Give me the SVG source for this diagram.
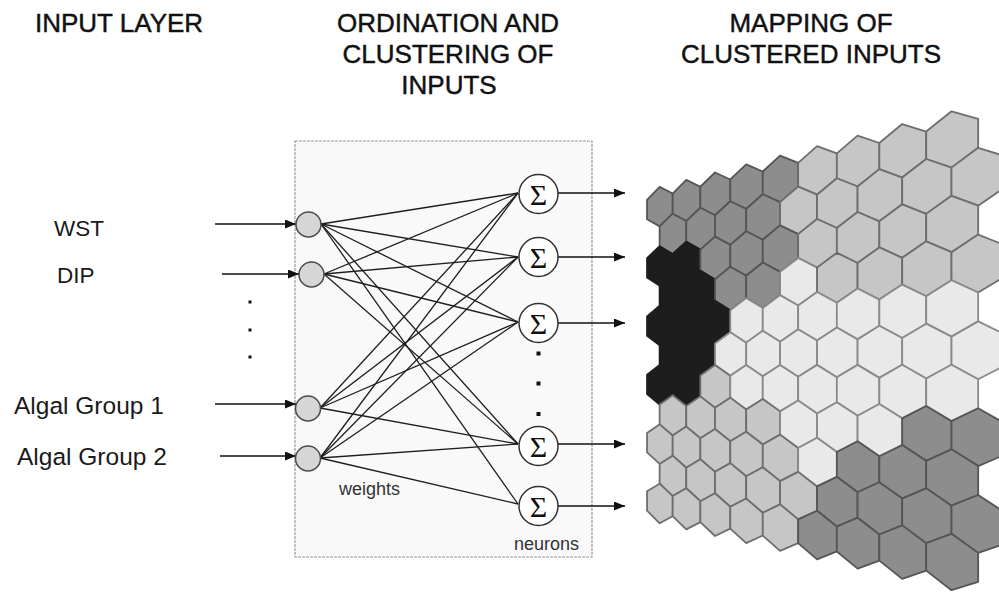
<svg xmlns="http://www.w3.org/2000/svg" width="999" height="594" viewBox="0 0 999 594">
  <style>
    .hd { font-family: "Liberation Sans", Arial, sans-serif; font-size: 26px; fill: #111; stroke: #111; stroke-width: 0.45; }
    .lb { font-family: "Liberation Sans", Arial, sans-serif; font-size: 22.5px; fill: #1a1a1a; }
    .lb2 { font-family: "Liberation Sans", Arial, sans-serif; font-size: 24.5px; fill: #1a1a1a; }
    .sm { font-family: "Liberation Sans", Arial, sans-serif; font-size: 18px; fill: #333; }
    .sig { font-family: "Liberation Serif", "Times New Roman", serif; font-size: 30px; fill: #111; text-anchor: middle; }
    .wire { stroke: #1e1e1e; stroke-width: 1.3; fill: none; }
    .arr { stroke: #111; stroke-width: 1.5; fill: none; marker-end: url(#ah); }
    .inp { fill: #d6d6d6; stroke: #4a4a4a; stroke-width: 1.5; }
    .neu { fill: #fff; stroke: #333; stroke-width: 1.5; }
    .dot { fill: #111; }
    .hx { stroke-width: 1.8; stroke-linejoin: round; vector-effect: non-scaling-stroke; }
    .dk { fill: #8d8d8d; stroke: #555; }
    .lt { fill: #c6c6c7; stroke: #6e6e6e; }
    .vl { fill: #e9e9ea; stroke: #8a8a8a; }
    .bk { fill: #1d1d1d; stroke: #1d1d1d; }
  </style>
  <defs>
    <marker id="ah" viewBox="0 0 11 9" refX="11" refY="4.5" markerWidth="11" markerHeight="9" markerUnits="userSpaceOnUse" orient="auto">
      <path d="M0,0 L11,4.5 L0,9 z" fill="#111"/>
    </marker>
    <!-- one hexagon per starting half-column, centred on the horizon line (v = 0);
         x is measured from the vanishing point, widths shrink toward it -->
    <polygon id="p0" class="hx" points="677.05,-9.72 689.63,-19.79 702.69,-10.08 702.69,10.08 689.63,19.79 677.05,9.72"/>
    <polygon id="p1" class="hx" points="689.63,-9.90 702.69,-20.17 716.26,-10.28 716.26,10.28 702.69,20.17 689.63,9.90"/>
    <polygon id="p2" class="hx" points="702.69,-10.08 716.26,-20.56 730.35,-10.48 730.35,10.48 716.26,20.56 702.69,10.08"/>
    <polygon id="p3" class="hx" points="716.26,-10.28 730.35,-20.96 745.02,-10.69 745.02,10.69 730.35,20.96 716.26,10.28"/>
    <polygon id="p4" class="hx" points="730.35,-10.48 745.02,-21.38 760.28,-10.91 760.28,10.91 745.02,21.38 730.35,10.48"/>
    <polygon id="p5" class="hx" points="745.02,-10.69 760.28,-21.82 776.19,-11.14 776.19,11.14 760.28,21.82 745.02,10.69"/>
    <polygon id="p6" class="hx" points="760.28,-10.91 776.19,-22.28 792.77,-11.38 792.77,11.38 776.19,22.28 760.28,10.91"/>
    <polygon id="p7" class="hx" points="776.19,-11.14 792.77,-22.75 810.08,-11.63 810.08,11.63 792.77,22.75 776.19,11.14"/>
    <polygon id="p8" class="hx" points="792.77,-11.38 810.08,-23.25 828.16,-11.88 828.16,11.88 810.08,23.25 792.77,11.38"/>
    <polygon id="p9" class="hx" points="810.08,-11.63 828.16,-23.77 847.06,-12.16 847.06,12.16 828.16,23.77 810.08,11.63"/>
    <polygon id="p10" class="hx" points="828.16,-11.88 847.06,-24.31 866.85,-12.44 866.85,12.44 847.06,24.31 828.16,11.88"/>
    <polygon id="p11" class="hx" points="847.06,-12.16 866.85,-24.88 887.59,-12.74 887.59,12.74 866.85,24.88 847.06,12.16"/>
    <polygon id="p12" class="hx" points="866.85,-12.44 887.59,-25.47 909.34,-13.05 909.34,13.05 887.59,25.47 866.85,12.44"/>
    <polygon id="p13" class="hx" points="887.59,-12.74 909.34,-26.10 932.19,-13.38 932.19,13.38 909.34,26.10 887.59,12.74"/>
    <polygon id="p14" class="hx" points="909.34,-13.05 932.19,-26.75 956.21,-13.72 956.21,13.72 932.19,26.75 909.34,13.05"/>
    <polygon id="p15" class="hx" points="932.19,-13.38 956.21,-27.44 981.50,-14.09 981.50,14.09 956.21,27.44 932.19,13.38"/>
    <polygon id="p16" class="hx" points="956.21,-13.72 981.50,-28.17 1008.17,-14.47 1008.17,14.47 981.50,28.17 956.21,13.72"/>
    <polygon id="p17" class="hx" points="981.50,-14.09 1008.17,-28.93 1036.32,-14.87 1036.32,14.87 1008.17,28.93 981.50,14.09"/>
  </defs>

  <rect width="999" height="594" fill="#fff"/>

  <!-- column headings -->
  <g id="headings">
    <text class="hd" x="35" y="32">INPUT LAYER</text>
    <text class="hd" x="448" y="32" text-anchor="middle">ORDINATION AND</text>
    <text class="hd" x="448" y="63" text-anchor="middle">CLUSTERING OF</text>
    <text class="hd" x="449" y="94" text-anchor="middle">INPUTS</text>
    <text class="hd" x="811" y="32" text-anchor="middle">MAPPING OF</text>
    <text class="hd" x="811" y="63" text-anchor="middle">CLUSTERED INPUTS</text>
  </g>

  <!-- input labels -->
  <g id="input-labels">
    <text class="lb" x="54" y="236">WST</text>
    <text class="lb" x="57" y="283">DIP</text>
    <rect class="dot" x="248.5" y="300.5" width="3" height="3"/>
    <rect class="dot" x="248.5" y="328.5" width="3" height="3"/>
    <rect class="dot" x="248.5" y="355.5" width="3" height="3"/>
    <text class="lb2" x="14" y="414">Algal Group 1</text>
    <text class="lb2" x="17" y="465">Algal Group 2</text>
  </g>

  <!-- network frame -->
  <rect id="frame" x="295" y="141" width="297" height="416" fill="#f9f9f9" stroke="#9a9a9a" stroke-width="1.2" stroke-dasharray="3 1"/>

  <g id="connectors">
    <!-- input arrows -->
    <line class="arr" x1="215" y1="224" x2="296" y2="224"/>
    <line class="arr" x1="222" y1="274" x2="299" y2="274"/>
    <line class="arr" x1="215" y1="404" x2="296" y2="404"/>
    <line class="arr" x1="220" y1="456" x2="296" y2="456"/>
    <!-- weights -->
    <line class="wire" x1="321" y1="224" x2="518" y2="193"/>
    <line class="wire" x1="321" y1="224" x2="518" y2="257"/>
    <line class="wire" x1="321" y1="224" x2="518" y2="322"/>
    <line class="wire" x1="321" y1="224" x2="518" y2="444"/>
    <line class="wire" x1="321" y1="224" x2="518" y2="504"/>
    <line class="wire" x1="324" y1="274" x2="518" y2="193"/>
    <line class="wire" x1="324" y1="274" x2="518" y2="257"/>
    <line class="wire" x1="324" y1="274" x2="518" y2="322"/>
    <line class="wire" x1="324" y1="274" x2="518" y2="444"/>
    <line class="wire" x1="320" y1="408" x2="518" y2="193"/>
    <line class="wire" x1="320" y1="408" x2="518" y2="257"/>
    <line class="wire" x1="320" y1="408" x2="518" y2="322"/>
    <line class="wire" x1="320" y1="408" x2="518" y2="444"/>
    <line class="wire" x1="320" y1="458" x2="518" y2="193"/>
    <line class="wire" x1="320" y1="458" x2="518" y2="257"/>
    <line class="wire" x1="320" y1="458" x2="518" y2="322"/>
    <line class="wire" x1="320" y1="458" x2="518" y2="444"/>
    <line class="wire" x1="320" y1="458" x2="518" y2="504"/>
    <!-- outputs -->
    <line class="arr" x1="558" y1="193" x2="625" y2="193"/>
    <line class="arr" x1="558" y1="257" x2="625" y2="257"/>
    <line class="arr" x1="558" y1="323" x2="625" y2="323"/>
    <line class="arr" x1="558" y1="444" x2="625" y2="444"/>
    <line class="arr" x1="558" y1="506" x2="625" y2="506"/>
  </g>

  <!-- input nodes -->
  <g id="in-wst"><circle class="inp" cx="308.5" cy="224.5" r="12.5"/></g>
  <g id="in-dip"><circle class="inp" cx="311.5" cy="274.5" r="12.5"/></g>
  <g id="in-algal1"><circle class="inp" cx="308" cy="408.5" r="12.5"/></g>
  <g id="in-algal2"><circle class="inp" cx="308" cy="458.5" r="12.5"/></g>

  <!-- summing neurons -->
  <g id="neuron-1"><circle class="neu" cx="538.5" cy="194" r="19.5"/><text class="sig" x="538.5" y="204.5">Σ</text></g>
  <g id="neuron-2"><circle class="neu" cx="538.5" cy="257" r="19.5"/><text class="sig" x="538.5" y="267.5">Σ</text></g>
  <g id="neuron-3"><circle class="neu" cx="538.5" cy="323" r="19.5"/><text class="sig" x="538.5" y="333.5">Σ</text></g>
  <g id="neuron-4"><circle class="neu" cx="538.5" cy="446" r="19.5"/><text class="sig" x="538.5" y="456.5">Σ</text></g>
  <g id="neuron-5"><circle class="neu" cx="538.5" cy="506" r="19.5"/><text class="sig" x="538.5" y="516.5">Σ</text></g>
  <g id="neuron-dots">
    <rect class="dot" x="536.5" y="351.5" width="4" height="4"/>
    <rect class="dot" x="536.5" y="381.5" width="4" height="4"/>
    <rect class="dot" x="536.5" y="412" width="4" height="4"/>
  </g>
  <text class="sm" x="339" y="495">weights</text>
  <text class="sm" x="514" y="550">neurons</text>

  <!-- self-organising map in perspective: each row is the base row sheared about the vanishing point -->
  <g id="hexmap" transform="translate(-30 365.3)">
    <g id="row0" transform="matrix(1 -0.2301 0 1 0 0)">
      <use href="#p0" class="dk"/><use href="#p2" class="dk"/><use href="#p4" class="dk"/><use href="#p6" class="dk"/><use href="#p8" class="dk"/>
      <use href="#p10" class="lt"/><use href="#p12" class="lt"/><use href="#p14" class="lt"/><use href="#p16" class="lt"/>
    </g>
    <g id="row1" transform="matrix(1 -0.18705 0 1 0 0)">
      <use href="#p1" class="dk"/><use href="#p3" class="dk"/><use href="#p5" class="dk"/><use href="#p7" class="dk"/>
      <use href="#p9" class="lt"/><use href="#p11" class="lt"/><use href="#p13" class="lt"/><use href="#p15" class="lt"/><use href="#p17" class="lt"/>
    </g>
    <g id="row2" transform="matrix(1 -0.1440 0 1 0 0)">
      <use href="#p0" class="bk"/><use href="#p2" class="bk"/>
      <use href="#p4" class="dk"/><use href="#p6" class="dk"/><use href="#p8" class="dk"/>
      <use href="#p10" class="lt"/><use href="#p12" class="lt"/><use href="#p14" class="lt"/><use href="#p16" class="lt"/>
    </g>
    <g id="row3" transform="matrix(1 -0.10095 0 1 0 0)">
      <use href="#p1" class="bk"/><use href="#p3" class="bk"/>
      <use href="#p5" class="dk"/><use href="#p7" class="dk"/>
      <use href="#p9" class="vl"/>
      <use href="#p11" class="lt"/><use href="#p13" class="lt"/><use href="#p15" class="lt"/><use href="#p17" class="lt"/>
    </g>
    <g id="row4" transform="matrix(1 -0.0579 0 1 0 0)">
      <use href="#p0" class="bk"/><use href="#p2" class="bk"/><use href="#p4" class="bk"/>
      <use href="#p6" class="vl"/><use href="#p8" class="vl"/><use href="#p10" class="vl"/><use href="#p12" class="vl"/><use href="#p14" class="vl"/><use href="#p16" class="vl"/>
    </g>
    <g id="row5" transform="matrix(1 -0.01485 0 1 0 0)">
      <use href="#p1" class="bk"/><use href="#p3" class="bk"/>
      <use href="#p5" class="vl"/><use href="#p7" class="vl"/><use href="#p9" class="vl"/><use href="#p11" class="vl"/><use href="#p13" class="vl"/><use href="#p15" class="vl"/><use href="#p17" class="vl"/>
    </g>
    <g id="row6" transform="matrix(1 0.0282 0 1 0 0)">
      <use href="#p0" class="bk"/><use href="#p2" class="bk"/>
      <use href="#p4" class="lt"/>
      <use href="#p6" class="vl"/><use href="#p8" class="vl"/><use href="#p10" class="vl"/><use href="#p12" class="vl"/><use href="#p14" class="vl"/><use href="#p16" class="vl"/>
    </g>
    <g id="row7" transform="matrix(1 0.07125 0 1 0 0)">
      <use href="#p1" class="lt"/><use href="#p3" class="lt"/><use href="#p5" class="lt"/><use href="#p7" class="lt"/>
      <use href="#p9" class="vl"/><use href="#p11" class="vl"/><use href="#p13" class="vl"/>
      <use href="#p15" class="dk"/><use href="#p17" class="dk"/>
    </g>
    <g id="row8" transform="matrix(1 0.1143 0 1 0 0)">
      <use href="#p0" class="lt"/><use href="#p2" class="lt"/><use href="#p4" class="lt"/><use href="#p6" class="lt"/><use href="#p8" class="lt"/>
      <use href="#p10" class="vl"/>
      <use href="#p12" class="dk"/><use href="#p14" class="dk"/><use href="#p16" class="dk"/>
    </g>
    <g id="row9" transform="matrix(1 0.15735 0 1 0 0)">
      <use href="#p1" class="lt"/><use href="#p3" class="lt"/><use href="#p5" class="lt"/><use href="#p7" class="lt"/><use href="#p9" class="lt"/>
      <use href="#p11" class="dk"/><use href="#p13" class="dk"/><use href="#p15" class="dk"/><use href="#p17" class="dk"/>
    </g>
    <g id="row10" transform="matrix(1 0.2004 0 1 0 0)">
      <use href="#p0" class="lt"/><use href="#p2" class="lt"/><use href="#p4" class="lt"/><use href="#p6" class="lt"/><use href="#p8" class="lt"/>
      <use href="#p10" class="dk"/><use href="#p12" class="dk"/><use href="#p14" class="dk"/><use href="#p16" class="dk"/>
    </g>
  </g>
</svg>
